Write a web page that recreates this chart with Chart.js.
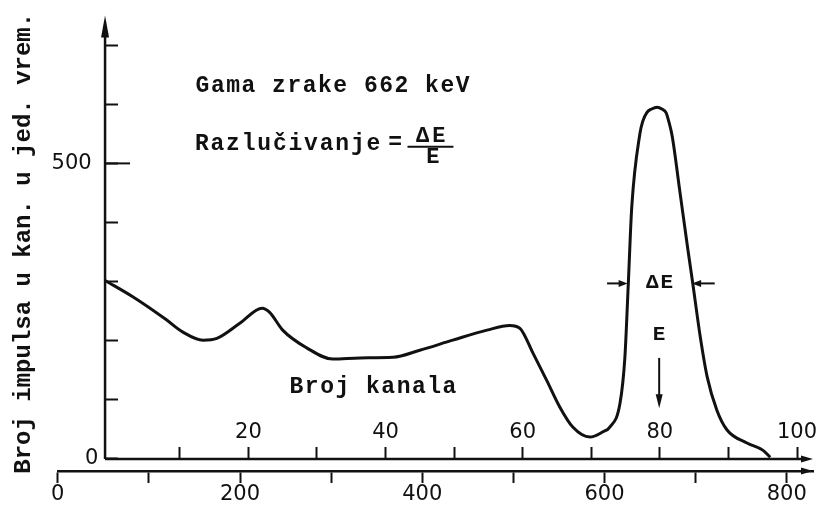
<!DOCTYPE html>
<html>
<head>
<meta charset="utf-8">
<title>Gama spektar 662 keV</title>
<script src="https://cdn.jsdelivr.net/npm/chart.js@4.4.1/dist/chart.umd.min.js"></script>
<style>
  html, body { margin: 0; padding: 0; background: #fff; }
  #wrap { width: 820px; height: 508px; }
</style>
</head>
<body>
<div id="wrap"><canvas id="spektar"></canvas></div>
<script>
// kanal (gornja skala) i broj impulsa, ocitano sa slike
const kanali = [-0.9, 3.2, 8.1, 10.4, 13.4, 15.4, 18.8, 22.0, 23.1, 25.0,
  28.5, 32.3, 36.3, 41.1, 45.0, 49.8, 54.8, 58.1, 59.6, 61.5,
  63.5, 65.4, 67.3, 69.8, 71.7, 72.7, 74.2, 74.9, 75.4, 75.9,
  77.1, 77.5, 78.1, 78.8, 79.6, 80.3, 80.9, 81.3, 81.8, 82.9,
  84.1, 84.8, 85.9, 86.9, 88.3, 89.8, 92.7, 95.0, 96.1];
const impulsi = [302, 274, 235, 215, 201, 204, 230, 255, 248, 218,
  188, 169, 171, 172, 184, 201, 218, 226, 221, 179,
  133, 88, 54, 37, 46, 54, 95, 172, 297, 426,
  551, 571, 586, 592, 595, 592, 586, 571, 546, 454,
  353, 297, 206, 139, 83, 49, 27, 15, 3];

const kanalTicks = [10, 20, 30, 40, 50, 60, 70, 80, 90, 100];
const kanalOznake = [20, 40, 60, 80, 100];
const energijaTicks = [0, 100, 200, 300, 400, 500, 600, 700, 800];
const energijaOznake = [0, 200, 400, 600, 800];
const impulsTicks = [0, 100, 200, 300, 400, 500, 600, 700];
const impulsOznake = { 0: '0 ', 500: '500  ' };

const yOsKanal = -0.9;   // gdje stoji okomita os (u kanalima)
const ink = '#111';
const mono = '"Liberation Mono", "DejaVu Sans Mono", monospace';
const sans = '"DejaVu Sans", sans-serif';

// osi sa strelicama i natpisi na crtezu
const skica = {
  id: 'skica',
  afterDraw(chart) {
    const { ctx, chartArea } = chart;
    const { x, y, x2 } = chart.scales;
    const px = v => x.getPixelForValue(v);
    const py = v => y.getPixelForValue(v);
    const ox = px(yOsKanal), oy = py(0);

    const seg = (a, b, c, d) => {
      ctx.beginPath(); ctx.moveTo(a, b); ctx.lineTo(c, d); ctx.stroke();
    };
    const arrow = (tx, ty, dx, dy, len, half) => {
      ctx.beginPath();
      ctx.moveTo(tx, ty);
      ctx.lineTo(tx - dx * len - dy * half, ty - dy * len + dx * half);
      ctx.lineTo(tx - dx * len + dy * half, ty - dy * len - dx * half);
      ctx.closePath(); ctx.fill();
    };
    const txt = (s, cx, cy, align, size, sp) => {
      ctx.font = 'bold ' + size + 'px ' + mono;
      ctx.textAlign = align;
      if ('letterSpacing' in ctx) ctx.letterSpacing = (sp || 0) + 'px';
      ctx.fillText(s, px(cx), py(cy));
    };

    ctx.save();
    ctx.strokeStyle = ink; ctx.fillStyle = ink;
    ctx.lineWidth = 2.5;
    seg(ox, oy, ox, chartArea.top + 10);
    arrow(ox, chartArea.top, 0, -1, 22, 4);
    seg(ox, oy, chartArea.right - 6, oy);
    arrow(chartArea.right, oy, 1, 0, 12, 3.5);
    arrow(chartArea.right, x2.top, 1, 0, 12, 3.5);
    ctx.lineWidth = 2;
    seg(ox, py(500), ox + 25, py(500));

    ctx.textBaseline = 'alphabetic';
    txt('Gama zrake 662 keV', 12.3, 620, 'left', 23, 1.5);
    txt('Razlučivanje', 12.2, 522, 'left', 23, 1.8);
    txt('Broj kanala', 26.0, 111, 'left', 23, 1.5);
    txt('=', 41.4, 524, 'center', 23);
    txt('\u0394E', 46.8, 536, 'center', 22, 3);
    txt('E', 46.9, 500, 'center', 22);
    seg(px(43.2), py(528), px(49.9), py(528));

    txt('\u0394E', 80.1, 289, 'center', 21, 2);
    txt('E', 79.9, 201, 'center', 21);
    seg(px(72.3), py(297), px(74.6), py(297));
    arrow(px(75.3), py(297), 1, 0, 9, 3.5);
    seg(px(88.0), py(297), px(85.4), py(297));
    arrow(px(84.7), py(297), -1, 0, 9, 3.5);
    seg(px(79.9), py(171), px(79.9), py(100));
    arrow(px(79.9), py(86), 0, 1, 14, 3.5);
    ctx.restore();
  }
};

new Chart(document.getElementById('spektar'), {
  type: 'line',
  data: {
    datasets: [{
      data: kanali.map((k, i) => ({ x: k, y: impulsi[i] })),
      xAxisID: 'x',
      yAxisID: 'y',
      borderColor: ink,
      borderWidth: 3,
      pointRadius: 0,
      fill: false,
      cubicInterpolationMode: 'monotone'
    }]
  },
  options: {
    responsive: true,
    maintainAspectRatio: false,
    animation: false,
    layout: { padding: { top: 15, right: 7, bottom: 2, left: 4 } },
    plugins: { legend: { display: false }, tooltip: { enabled: false } },
    scales: {
      x: {
        type: 'linear',
        position: { y: 0 },
        min: -7.79,
        max: 102.33,
        afterBuildTicks: s => { s.ticks = kanalTicks.map(v => ({ value: v })); },
        border: { display: false },
        grid: { drawOnChartArea: false, tickLength: -12, tickWidth: 2, tickColor: ink },
        ticks: {
          color: ink,
          padding: -27,
          maxRotation: 0,
          autoSkip: false,
          font: { family: sans, size: 21 },
          callback: v => kanalOznake.includes(v) ? String(v) : ''
        }
      },
      x2: {
        type: 'linear',
        position: 'bottom',
        min: 0,
        max: 828.8,
        afterBuildTicks: s => { s.ticks = energijaTicks.map(v => ({ value: v })); },
        border: { display: true, color: ink, width: 2.5 },
        grid: { drawOnChartArea: false, tickLength: 12, tickWidth: 2, tickColor: ink },
        ticks: {
          color: ink,
          padding: 1,
          maxRotation: 0,
          autoSkip: false,
          font: { family: sans, size: 21, lineHeight: 1 },
          callback: v => energijaOznake.includes(v) ? String(v) : ''
        }
      },
      y: {
        type: 'linear',
        position: { x: yOsKanal },
        min: -20.3,
        max: 750,
        afterBuildTicks: s => { s.ticks = impulsTicks.map(v => ({ value: v })); },
        border: { display: false },
        grid: { drawOnChartArea: false, tickLength: -13, tickWidth: 2, tickColor: ink },
        ticks: {
          color: ink,
          autoSkip: false,
          font: { family: sans, size: 21 },
          callback: v => impulsOznake[v] || ''
        }
      },
      yNaslov: {
        type: 'linear',
        position: 'left',
        min: 0,
        max: 1,
        grid: { display: false },
        border: { display: false },
        ticks: { display: false },
        title: {
          display: true,
          text: 'Broj impulsa u kan. u jed. vrem.',
          color: ink,
          font: { family: mono, size: 24, weight: 'bold' },
          padding: { top: 6, bottom: 11 }
        }
      }
    }
  },
  plugins: [skica]
});
</script>
</body>
</html>
